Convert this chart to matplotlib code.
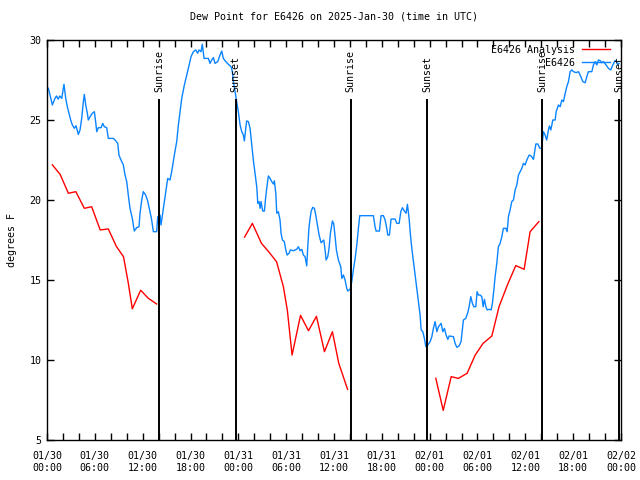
import numpy as np
import matplotlib
matplotlib.use("Agg")
import matplotlib.pyplot as plt
from matplotlib.ticker import MultipleLocator

# ---------------- data (hours since 2025-01-30 00:00 UTC) ----------------
blue_hours = [0.17, 0.38, 0.67, 1.0, 1.2, 1.4, 1.6, 1.85, 2.13, 2.35, 2.55, 2.76, 2.97, 3.18, 3.43,
              3.64, 3.93, 4.14, 4.35, 4.56, 4.68, 4.86, 5.06, 5.18, 5.4, 5.68, 5.94, 6.1, 6.24, 6.44,
              6.78, 6.99, 7.19, 7.49, 7.69, 8.32, 8.53, 8.87, 9.03, 9.28, 9.57, 9.79, 10.0, 10.2,
              10.41, 10.7, 10.95, 11.25, 11.54, 11.67, 11.88, 12.08, 12.38, 12.63, 12.92, 13.13,
              13.34, 13.76, 13.89, 14.05, 14.18, 14.3, 14.6, 14.89, 15.14, 15.43, 15.64, 15.97,
              16.27, 16.48, 16.69, 16.9, 17.23, 17.53, 17.82, 18.07, 18.36, 18.66, 18.9, 19.07,
              19.32, 19.48, 19.7, 20.24, 20.45, 20.66, 20.87, 21.08, 21.42, 21.7, 21.92, 22.12,
              22.42, 22.75, 23.09, 23.25, 23.38, 23.59, 23.8, 24.0, 24.22, 24.43, 24.63, 24.76,
              24.93, 25.05, 25.26, 25.47, 25.88, 26.1, 26.31, 26.44, 26.6, 26.73, 26.85, 27.06,
              27.27, 27.44, 27.64, 27.77, 27.98, 28.19, 28.39, 28.52, 28.7, 28.82, 29.02, 29.23,
              29.36, 29.53, 29.77, 29.95, 30.11, 30.36, 30.53, 30.9, 31.33, 31.53, 31.74, 31.96,
              32.16, 32.37, 32.58, 32.71, 32.87, 33.12, 33.33, 33.54, 33.71, 33.88, 34.13, 34.38,
              34.72, 34.88, 35.01, 35.22, 35.38, 35.55, 35.8, 35.97, 36.14, 36.3, 36.55, 36.85,
              36.98, 37.18, 37.39, 37.6, 37.73, 38.02, 38.23, 38.43, 38.65, 38.86, 39.06, 39.23,
              40.94, 41.15, 41.28, 41.7, 41.9, 42.2, 42.41, 42.62, 42.74, 42.95, 43.16, 43.66,
              43.88, 44.17, 44.38, 44.58, 44.83, 45.04, 45.21, 45.42, 45.59, 45.76, 45.97, 46.17,
              46.39, 46.59, 46.8, 46.93, 47.14, 47.34, 47.52, 47.77, 48.06, 48.27, 48.47, 48.68,
              48.9, 49.1, 49.44, 49.65, 49.85, 50.06, 50.28, 50.44, 50.98, 51.19, 51.41, 51.69,
              51.94, 52.1, 52.23, 52.53, 52.78, 52.95, 53.16, 53.36, 53.54, 53.79, 53.95, 54.12,
              54.33, 54.54, 54.71, 54.87, 55.05, 55.21, 55.46, 55.71, 55.87, 56.05, 56.21, 56.42,
              56.62, 56.84, 57.05, 57.25, 57.55, 57.72, 57.88, 58.09, 58.3, 58.51, 58.72, 58.93,
              59.14, 59.35, 59.56, 59.76, 59.97, 60.19, 60.48, 60.73, 61.02, 61.32, 61.57, 61.82,
              62.05, 62.27, 62.48, 62.68, 62.9, 63.02, 63.2, 63.45, 63.74, 63.87, 64.16, 64.37,
              64.58, 64.78, 65.0, 65.2, 65.41, 65.62, 65.83, 66.04, 66.37, 66.66, 66.96, 67.21,
              67.5, 67.71, 67.91, 68.34, 68.54, 68.76, 68.97, 69.17, 69.38, 69.59, 69.8, 70.13,
              70.42, 70.72, 70.97, 71.26, 71.46, 71.59, 71.75]
blue_values = [26.98, 26.56, 25.94, 26.35, 26.5, 26.3, 26.5, 26.35, 27.23, 26.35, 25.83, 25.42, 25.0,
               24.69, 24.48, 24.64, 24.1, 24.37, 25.1, 26.14, 26.6, 25.94, 25.42, 25.0, 25.2, 25.42,
               25.52, 24.9, 24.27, 24.52, 24.52, 24.79, 24.58, 24.52, 23.85, 23.85, 23.75, 23.54,
               22.8, 22.5, 22.2, 21.56, 21.15, 20.3, 19.48, 18.85, 18.06, 18.27, 18.33, 19.17, 20.0,
               20.52, 20.3, 19.94, 19.27, 18.75, 18.02, 18.02, 18.96, 18.33, 19.06, 18.44, 19.48,
               20.52, 21.35, 21.25, 21.77, 22.8, 23.65, 24.69, 25.52, 26.35, 27.19, 27.81, 28.44,
               28.96, 29.27, 29.38, 29.17, 29.38, 29.27, 29.73, 28.85, 28.85, 28.54, 28.75, 28.9,
               28.54, 28.65, 29.06, 29.31, 28.85, 28.65, 28.48, 28.33, 28.02, 27.4, 26.77, 26.15,
               25.52, 24.69, 24.27, 24.06, 23.69, 24.48, 24.94, 24.9, 24.48, 22.5, 21.67, 20.83,
               19.79, 19.9, 19.48, 19.9, 19.31, 19.31, 20.21, 21.04, 21.5, 21.35, 21.15, 21.0, 21.2,
               20.42, 19.17, 19.27, 18.75, 17.92, 17.5, 17.4, 16.88, 16.56, 16.67, 16.88, 16.83,
               16.92, 17.08, 16.83, 16.92, 16.56, 16.46, 15.88, 17.08, 18.33, 19.27, 19.54, 19.48,
               19.06, 18.54, 17.81, 17.33, 17.5, 16.88, 16.25, 16.46, 16.98, 17.92, 18.69, 18.5,
               17.71, 16.88, 16.25, 15.83, 15.1, 15.31, 15.0, 14.48, 14.31, 14.42, 14.9, 15.63,
               16.35, 17.19, 18.23, 19.02, 19.02, 18.33, 18.06, 18.06, 19.02, 19.02, 18.75, 18.23,
               17.81, 17.81, 18.81, 18.81, 18.54, 18.54, 19.27, 19.52, 19.31, 19.17, 19.73, 18.85,
               17.81, 16.98, 16.15, 15.31, 14.48, 13.65, 12.81, 11.88, 11.77, 11.35, 10.83, 10.94,
               11.15, 11.46, 11.98, 12.4, 11.77, 12.08, 12.29, 11.77, 11.98, 11.56, 11.29, 11.5,
               11.46, 11.04, 10.79, 10.88, 11.15, 11.88, 12.5, 12.6, 12.96, 13.33, 13.96, 13.54,
               13.33, 13.33, 14.27, 14.06, 14.06, 13.96, 13.33, 13.79, 13.33, 13.13, 13.17, 13.13,
               13.54, 14.38, 15.21, 16.04, 17.08, 17.29, 17.71, 18.23, 18.23, 18.02, 18.96, 19.38,
               19.9, 20.0, 20.63, 20.94, 21.56, 21.77, 21.98, 22.29, 22.19, 22.5, 22.81, 22.75,
               22.54, 23.5, 23.5, 23.23, 23.23, 24.27, 24.06, 23.75, 24.38, 24.63, 24.38, 25.0,
               25.0, 25.52, 25.94, 25.83, 26.25, 26.15, 26.67, 27.08, 27.4, 28.02, 28.13, 28.02,
               27.96, 28.02, 27.71, 27.4, 27.33, 27.71, 28.02, 28.02, 28.44, 28.65, 28.44, 28.75,
               28.71, 28.58, 28.65, 28.44, 28.23, 28.13, 28.44, 28.71, 28.65, 28.44, 28.54]

red_hours_1 = [0.67, 1.65, 2.68, 3.62, 4.68, 5.6, 6.67, 7.69, 8.7, 9.6, 10.2, 10.7, 11.75, 12.7, 13.75]
red_values_1 = [22.2, 21.6, 20.42, 20.52, 19.48, 19.58, 18.13, 18.19, 17.1, 16.45, 14.8, 13.2, 14.36,
                13.86, 13.5]
red_hours_2 = [24.78, 25.76, 26.9, 27.8, 28.8, 29.65, 30.15, 30.74, 31.8, 32.8, 33.8, 34.8, 35.8,
               36.6, 37.7]
red_values_2 = [17.68, 18.54, 17.29, 16.77, 16.14, 14.58, 13.1, 10.31, 12.79, 11.83, 12.73, 10.52,
                11.77, 9.79, 8.17]
red_hours_3 = [48.77, 49.7, 50.7, 51.6, 52.7, 53.7, 54.7, 55.8, 56.7, 57.75, 58.8, 59.85, 60.6, 61.7]
red_values_3 = [8.86, 6.85, 8.96, 8.85, 9.17, 10.3, 11.04, 11.5, 13.33, 14.69, 15.9, 15.67, 18.02,
                18.65]

sun_events = ["Sunrise", "Sunset", "Sunrise", "Sunset", "Sunrise", "Sunset"]
sun_hours = [14.05, 23.65, 38.08, 47.72, 62.14, 71.77]

xtick_hours = [0, 6, 12, 18, 24, 30, 36, 42, 48, 54, 60, 66, 72]
xtick_labels = ["01/30\n00:00", "01/30\n06:00", "01/30\n12:00", "01/30\n18:00",
                "01/31\n00:00", "01/31\n06:00", "01/31\n12:00", "01/31\n18:00",
                "02/01\n00:00", "02/01\n06:00", "02/01\n12:00", "02/01\n18:00",
                "02/02\n00:00"]
ytick_values = [5, 10, 15, 20, 25, 30]

# ---------------- plot ----------------
FONT = "DejaVu Sans Mono"
FS = 7.2
plt.rcParams["font.family"] = FONT
plt.rcParams["font.size"] = FS

fig = plt.figure(figsize=(6.4, 4.8), dpi=100)
ax = fig.add_axes([47 / 640, 40 / 480, 574 / 640, 400 / 480])

RED = "#ff0000"
BLUE = "#0a84ff"

ax.plot(red_hours_1, red_values_1, color=RED, lw=1.0, label="E6426 Analysis")
ax.plot(red_hours_2, red_values_2, color=RED, lw=1.0)
ax.plot(red_hours_3, red_values_3, color=RED, lw=1.0)
ax.plot(blue_hours, blue_values, color=BLUE, lw=1.0, label="E6426")

line_top = 26.3
for name, h in zip(sun_events, sun_hours):
    ax.vlines(h, 5, line_top, color="black", lw=1.4)
    ax.text(h, 26.75, name, rotation=90, ha="center", va="bottom", fontsize=FS,
            family=FONT)

ax.set_xlim(0, 72)
ax.set_ylim(5, 30)
ax.set_xticks(xtick_hours)
ax.set_xticklabels(xtick_labels, linespacing=1.2)
ax.xaxis.set_minor_locator(MultipleLocator(2))
ax.set_yticks(ytick_values)
ax.tick_params(which="both", direction="in", top=True, right=True, length=5, width=1,
               labelsize=FS, pad=4)
ax.tick_params(axis="x", pad=8)
for s in ax.spines.values():
    s.set_linewidth(1.0)

ax.set_ylabel("degrees F", fontsize=FS, labelpad=9)
ax.set_title("Dew Point for E6426 on 2025-Jan-30 (time in UTC)", fontsize=FS, pad=15)

ax.legend(loc="upper right", frameon=False, markerfirst=False, handlelength=2.8,
          handletextpad=0.7, labelspacing=0.3, borderaxespad=0.3, borderpad=0.2,
          fontsize=FS, bbox_to_anchor=(0.99, 1.0))

fig.savefig("out.png", dpi=100)
